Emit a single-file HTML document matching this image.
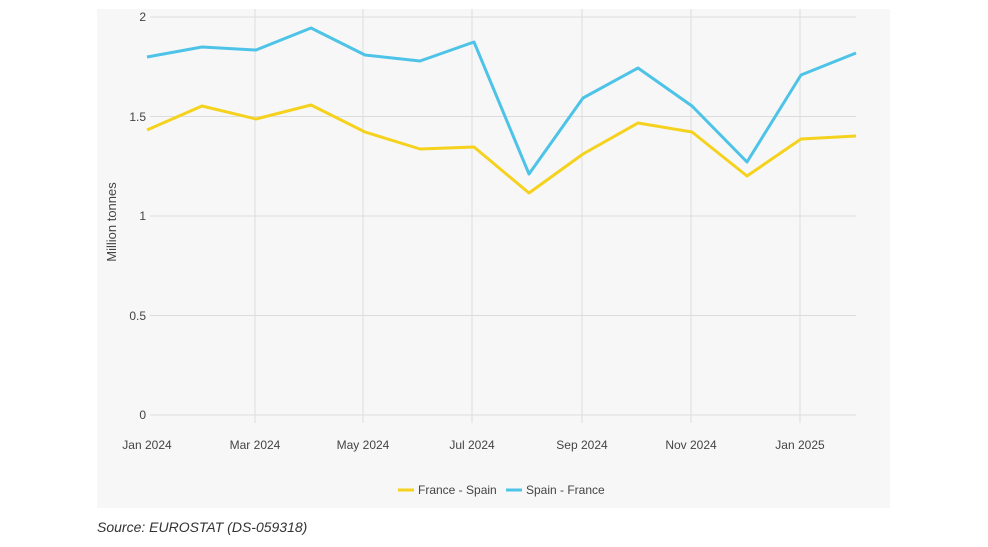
<!DOCTYPE html>
<html><head><style>
body{margin:0;width:988px;height:547px;background:#fff;overflow:hidden;font-family:"Liberation Sans",sans-serif}
</style></head><body>
<svg width="988" height="547" xmlns="http://www.w3.org/2000/svg" style="position:absolute;left:0;top:0">
<rect x="97" y="9" width="793" height="499" fill="#f7f7f7"/>
<g stroke="#dcdcdc" stroke-width="1">
<line x1="150" y1="17" x2="856" y2="17"/>
<line x1="150" y1="116.5" x2="856" y2="116.5"/>
<line x1="150" y1="216" x2="856" y2="216"/>
<line x1="150" y1="315.5" x2="856" y2="315.5"/>
<line x1="150" y1="415" x2="856" y2="415"/>
<line x1="255" y1="9" x2="255" y2="423"/>
<line x1="363" y1="9" x2="363" y2="423"/>
<line x1="472" y1="9" x2="472" y2="423"/>
<line x1="582" y1="9" x2="582" y2="423"/>
<line x1="691" y1="9" x2="691" y2="423"/>
<line x1="800" y1="9" x2="800" y2="423"/>
</g>
<g font-size="12" fill="#444" text-anchor="end">
<text x="146" y="21">2</text><text x="146" y="121">1.5</text><text x="146" y="220">1</text><text x="146" y="320">0.5</text><text x="146" y="419">0</text>
</g>
<g font-size="12" fill="#444" text-anchor="middle">
<text x="147" y="449">Jan 2024</text><text x="255" y="449">Mar 2024</text><text x="363" y="449">May 2024</text><text x="472" y="449">Jul 2024</text><text x="582" y="449">Sep 2024</text><text x="691" y="449">Nov 2024</text><text x="800" y="449">Jan 2025</text>
</g>
<text transform="translate(116,222) rotate(-90)" font-size="13" fill="#444" text-anchor="middle">Million tonnes</text>
<polyline fill="none" stroke="#4ec3e8" stroke-width="3" stroke-linejoin="round" points="147,57 202,47 256,50 311,28 365,55 420,61 474,42 529,174 583,98 638,68 692,106 747,162 801,75 856,53"/>
<polyline fill="none" stroke="#f5d21e" stroke-width="3" stroke-linejoin="round" points="147,130 202,106 256,119 311,105 365,132 420,149 474,147 529,193 583,154 638,123 692,132 747,176 801,139 856,136"/>
<line x1="398" y1="490" x2="414" y2="490" stroke="#f5d21e" stroke-width="3"/>
<text x="418" y="494" font-size="12" fill="#444">France - Spain</text>
<line x1="506" y1="490" x2="522" y2="490" stroke="#4ec3e8" stroke-width="3"/>
<text x="526" y="494" font-size="12" fill="#444">Spain - France</text>
<text x="97" y="532" font-size="14" font-style="italic" fill="#333">Source: EUROSTAT (DS-059318)</text>
</svg>
</body></html>
